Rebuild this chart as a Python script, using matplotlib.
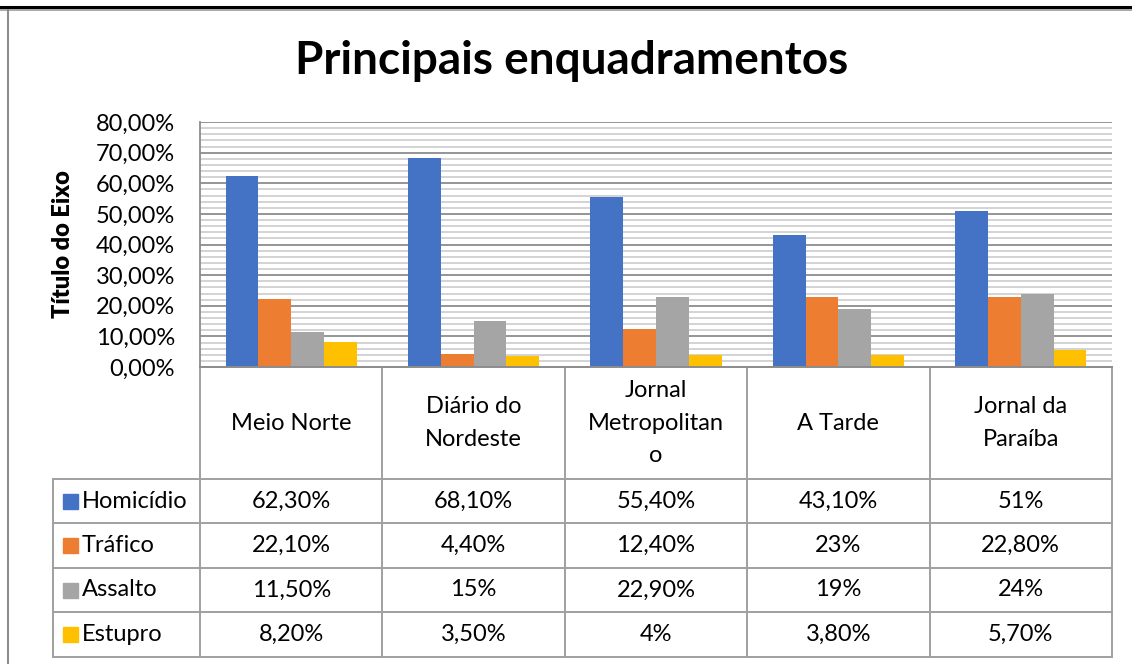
import matplotlib.pyplot as plt
import numpy as np
from matplotlib.ticker import MultipleLocator, FuncFormatter
from matplotlib.patches import Rectangle

plt.rcParams['font.family'] = ['Lato', 'DejaVu Sans']

jornais = ['Meio Norte', 'Diário do\nNordeste', 'Jornal\nMetropolitan\no', 'A Tarde', 'Jornal da\nParaíba']
series = ['Homicídio', 'Tráfico', 'Assalto', 'Estupro']
homicidio = [62.3, 68.1, 55.4, 43.1, 51.0]
trafico = [22.1, 4.4, 12.4, 23.0, 22.8]
assalto = [11.5, 15.0, 22.9, 19.0, 24.0]
estupro = [8.2, 3.5, 4.0, 3.8, 5.7]
rotulos = [
    ['62,30%', '68,10%', '55,40%', '43,10%', '51%'],
    ['22,10%', '4,40%', '12,40%', '23%', '22,80%'],
    ['11,50%', '15%', '22,90%', '19%', '24%'],
    ['8,20%', '3,50%', '4%', '3,80%', '5,70%'],
]
cores = ['#4472C4', '#ED7D31', '#A5A5A5', '#FFC000']
valores = [homicidio, trafico, assalto, estupro]

W, H = 1132, 664
fig = plt.figure(figsize=(W / 100, H / 100), dpi=100)
fs = 17


def rect(x0, y0, x1, y1):
    # pixel box (top-left origin) -> figure fraction
    return [x0 / W, 1 - y1 / H, (x1 - x0) / W, (y1 - y0) / H]


# outer frame pieces
fig.add_artist(plt.Line2D([0, 1], [1 - 7 / H, 1 - 7 / H], color='black', lw=2.2))
fig.add_artist(plt.Line2D([0, 1], [1 - 9.5 / H, 1 - 9.5 / H], color='#9a9a9a', lw=1.2))
fig.add_artist(plt.Line2D([8 / W, 8 / W], [0, 1 - 10 / H], color='#8c8c8c', lw=1.5))

px0, px1 = 200, 1112
ytop, ybot = 122, 367
ax = fig.add_axes(rect(px0, ytop, px1, ybot))
n = len(jornais)
x = np.arange(n)
bw = 0.18
for i, (v, c) in enumerate(zip(valores, cores)):
    ax.bar(x + (i - 1.5) * bw, v, bw, color=c, zorder=3)
ax.set_xlim(-0.5, n - 0.5)
ax.set_ylim(0, 80)
ax.yaxis.set_major_locator(MultipleLocator(10))
ax.yaxis.set_minor_locator(MultipleLocator(2))
ax.yaxis.set_major_formatter(FuncFormatter(lambda v, p: f'{v:.2f}%'.replace('.', ',')))
ax.grid(axis='y', which='major', color='#8c8c8c', lw=1.3, zorder=0)
ax.grid(axis='y', which='minor', color='#d0d0d0', lw=1.3, zorder=0)
ax.set_xticks([])
ax.tick_params(axis='y', which='both', length=0, labelsize=fs, pad=18)
for s in ['top', 'right', 'bottom']:
    ax.spines[s].set_visible(False)
ax.spines['left'].set_color('#8c8c8c')
ax.spines['left'].set_linewidth(1.3)
ax.set_ylabel('Título do Eixo', fontsize=fs, fontweight='heavy')
ax.yaxis.set_label_coords((74 - px0) / (px1 - px0), 0.5)

fig.text(572 / W, 1 - 61 / H, 'Principais enquadramentos', fontsize=33,
         fontweight='bold', ha='center', va='center')

# data table
tx0 = 53
colw = (px1 - px0) / n
left_u = -0.5 - (px0 - tx0) / colw
row_y = [367, 479, 523, 568, 612, 657]
tab = fig.add_axes(rect(tx0, row_y[0], px1, row_y[-1]))
tab.set_xlim(left_u, n - 0.5)
tab.set_ylim(row_y[-1], row_y[0])
tab.axis('off')
lc, lw = '#a0a0a0', 1.4
for k in range(n + 1):
    tab.plot([k - 0.5, k - 0.5], [row_y[0], row_y[-1]], color=lc, lw=lw, clip_on=False)
tab.plot([left_u, left_u], [row_y[1], row_y[-1]], color=lc, lw=lw, clip_on=False)
tab.plot([-0.5, n - 0.5], [row_y[0], row_y[0]], color='#8c8c8c', lw=lw, clip_on=False)
for r in range(1, len(row_y)):
    tab.plot([left_u, n - 0.5], [row_y[r], row_y[r]], color=lc, lw=lw, clip_on=False)
for k, nome in enumerate(jornais):
    tab.text(k, (row_y[0] + row_y[1]) / 2, nome, ha='center', va='center',
             fontsize=fs, linespacing=1.65)
for r, (s, c) in enumerate(zip(series, cores)):
    yc = (row_y[r + 1] + row_y[r + 2]) / 2
    tab.add_patch(Rectangle((left_u + 10 / colw, yc - 7.5), 15 / colw, 15,
                            color=c, clip_on=False))
    tab.text(left_u + 29 / colw, yc, s, ha='left', va='center', fontsize=fs)
    for k in range(n):
        tab.text(k, yc, rotulos[r][k], ha='center', va='center', fontsize=fs)

fig.savefig('out.png', dpi=100)
